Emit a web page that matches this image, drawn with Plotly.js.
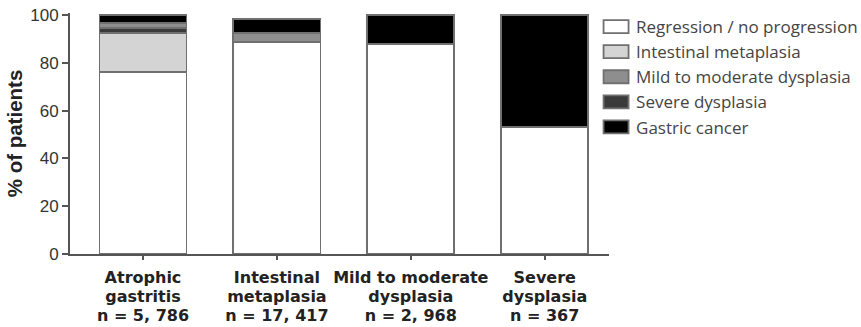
<!DOCTYPE html>
<html>
<head>
<meta charset="utf-8">
<script src="https://cdn.plot.ly/plotly-3.0.1.min.js"></script>
<style>html,body{margin:0;padding:0;background:#fff;}#chart{width:861px;height:327px;}</style>
</head>
<body>
<div id="chart"></div>
<script>
// Categories and tick labels
const categories = ['Atrophic gastritis', 'Intestinal metaplasia', 'Mild to moderate dysplasia', 'Severe dysplasia'];
const tickLines1 = ['Atrophic', 'Intestinal', 'Mild to moderate', 'Severe'];
const tickLines2 = ['gastritis', 'metaplasia', 'dysplasia', 'dysplasia'];
const nLabels = ['n = 5, 786', 'n = 17, 417', 'n = 2, 968', 'n = 367'];
const yTicks = [0, 20, 40, 60, 80, 100];

// Series values (% of patients)
const regression = [76.2, 88.7, 87.6, 53.0];
const intestinalMetaplasia = [16.3, 0, 0, 0];
const mildModerate = [2.0, 3.5, 0.3, 0];
const severeDysplasia = [2.0, 0.2, 0, 0];
const gastricCancer = [3.5, 5.9, 12.1, 47.0];

const seriesNames = ['Regression / no progression', 'Intestinal metaplasia', 'Mild to moderate dysplasia', 'Severe dysplasia', 'Gastric cancer'];
const seriesColors = ['#ffffff', '#d4d4d4', '#8e8e8e', '#3a3a3a', '#000000'];

const span = s => '<span style="font-size:16px">' + s + '</span>';
const tickText = categories.map((c, i) => span(tickLines1[i]) + '<br>' + span(tickLines2[i]) + '<br>' + span(nLabels[i]));
const xIdx = categories.map((c, i) => i);

function mk(vals, k, rank) {
  return {
    type: 'bar', x: xIdx, y: vals, name: seriesNames[k], legendrank: rank,
    marker: {color: seriesColors[k], line: {color: '#707070', width: 1.8}},
    width: 0.65, hoverinfo: 'y'
  };
}
// stacking order (bottom to top) as drawn in the figure
const data = [
  mk(regression, 0, 1),
  mk(intestinalMetaplasia, 1, 2),
  mk(severeDysplasia, 3, 4),
  mk(mildModerate, 2, 3),
  mk(gastricCancer, 4, 5)
];

const layout = {
  width: 861, height: 327,
  margin: {l: 70, r: 252, t: 13, b: 73, autoexpand: false},
  barmode: 'stack',
  paper_bgcolor: '#fff', plot_bgcolor: '#fff',
  font: {family: '"Liberation Sans", Arial, sans-serif', color: '#333333'},
  showlegend: true,
  legend: {
    x: 0.976, y: 1.0166, xanchor: 'left', yanchor: 'top',
    font: {family: '"Open Sans", sans-serif', size: 17, color: '#444444'},
    traceorder: 'normal', itemwidth: 30, tracegroupgap: 0,
    bgcolor: 'rgba(0,0,0,0)', borderwidth: 0
  },
  xaxis: {
    range: [-0.545, 3.48],
    tickmode: 'array', tickvals: xIdx, ticktext: tickText, tickangle: 0,
    tickfont: {family: '"DejaVu Sans", sans-serif', size: 14.7, weight: 'bold', color: '#222222'},
    ticklabelstandoff: 5,
    showline: true, linecolor: '#555555', linewidth: 2,
    ticks: 'outside', ticklen: 4, tickwidth: 2, tickcolor: '#555555',
    showgrid: false, zeroline: false, fixedrange: true, automargin: false
  },
  yaxis: {
    range: [0, 100.8],
    tickmode: 'array', tickvals: yTicks,
    tickfont: {size: 17, color: '#333333'},
    showline: true, linecolor: '#555555', linewidth: 2,
    ticks: 'outside', ticklen: 6, tickwidth: 2, tickcolor: '#555555',
    showgrid: false, zeroline: false, automargin: false,
    title: {text: '% of patients', font: {size: 20.5, weight: 'bold', color: '#222222'}, standoff: 2}
  }
};

Plotly.newPlot('chart', data, layout, {displayModeBar: false, staticPlot: true}).then(gd => {
  // widen the legend swatches to match the boxed keys of the original figure
  gd.querySelectorAll('.legend .legendpoints path').forEach(p => {
    p.setAttribute('d', 'M-12.5,6.5H12.5V-6.5H-12.5Z');
  });
});
</script>
</body>
</html>
